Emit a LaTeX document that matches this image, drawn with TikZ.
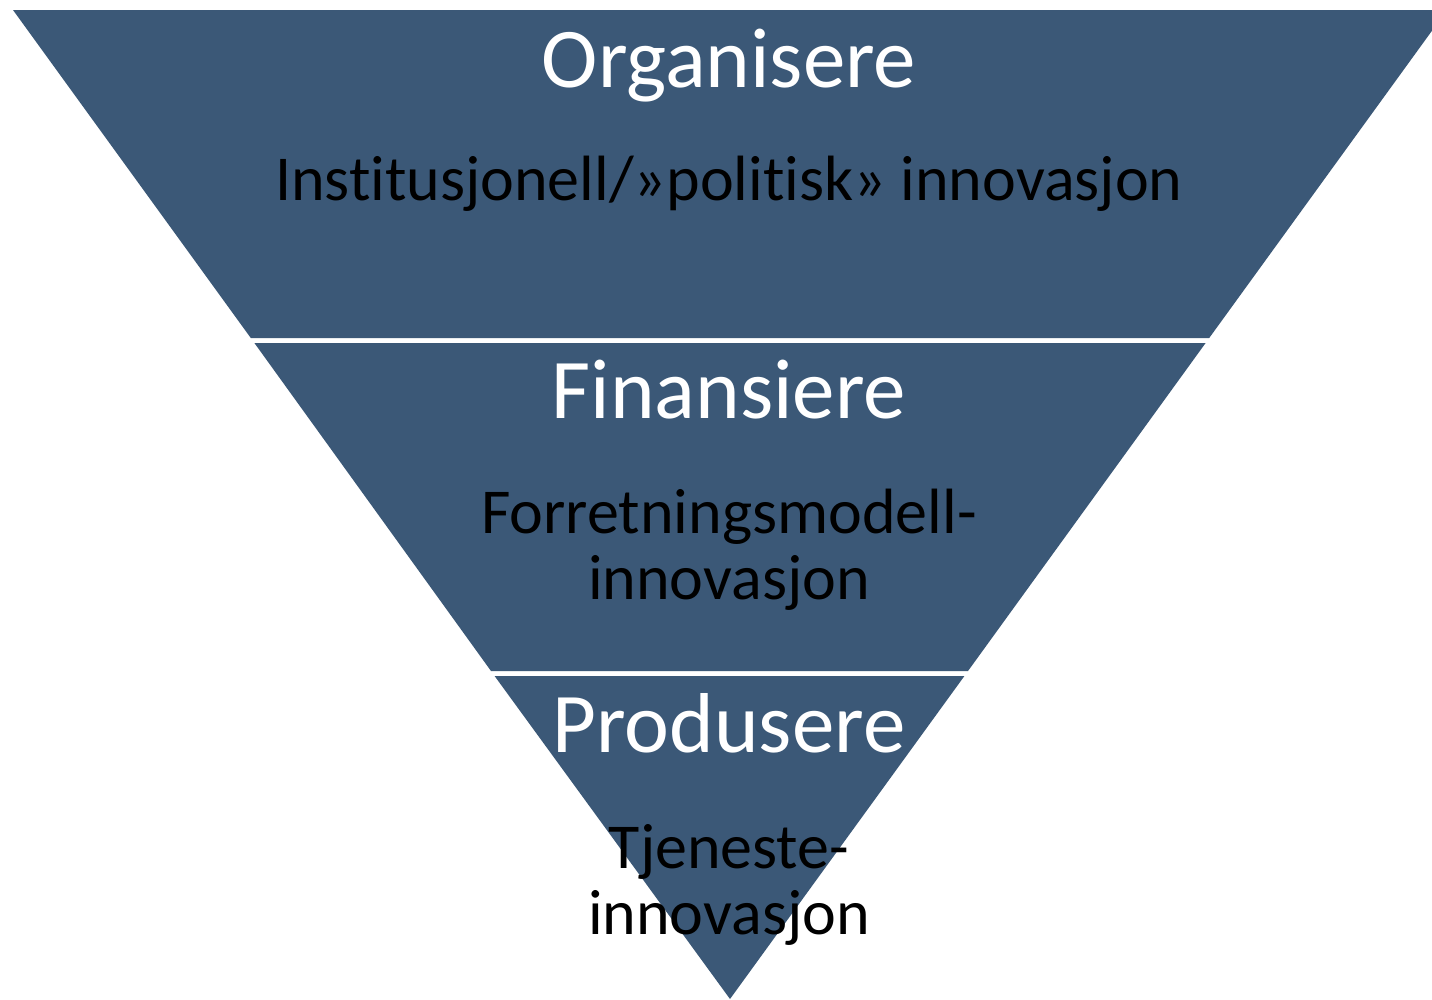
\documentclass[tikz,border=0pt]{standalone}
\usepackage{fontspec}
\setmainfont[Ligatures={NoCommon,NoContextual,NoRare}]{Carlito}
\definecolor{slate}{RGB}{59,88,119}
\tikzset{
  seg/.style={fill=slate, draw=none},
  ttl/.style={anchor=base, text=white, inner sep=0pt, font=\fontsize{85}{85}\selectfont},
  sub/.style={anchor=base, text=black, inner sep=0pt, font=\fontsize{64}{65}\selectfont},
}
\begin{document}
\begin{tikzpicture}[x=1pt,y=-1pt]
\useasboundingbox (0,0) rectangle (1432,999);
\clip (0,0) rectangle (1432,999);
\fill[white] (0,0) rectangle (1432,999);
% segments
\path[seg] (13,10) -- (1447,10) -- (1209.2,338) -- (250.8,338) -- cycle;
\path[seg] (254.4,343) -- (1205.6,343) -- (968.0,671) -- (491.0,671) -- cycle;
\path[seg] (494.6,676) -- (964.4,676) -- (730,999) -- cycle;
% texts
\node[ttl] (t1) at (729,87) {Organisere};
\node[sub] (s1) at (729,200) {Inst\kern0pt itusjonell/»polit\kern0pt isk» innovasjon};
\node[ttl] (t2) at (729,418) {Finansiere};
\node[sub] (s2a) at (729,533) {Forretningsmodell-};
\node[sub] (s2b) at (729,599) {innovasjon};
\node[ttl] (t3) at (729,752) {Produsere};
\node[sub] (s3a) at (729,868) {Tjeneste-};
\node[sub] (s3b) at (729,934) {innovasjon};
\end{tikzpicture}
\end{document}
